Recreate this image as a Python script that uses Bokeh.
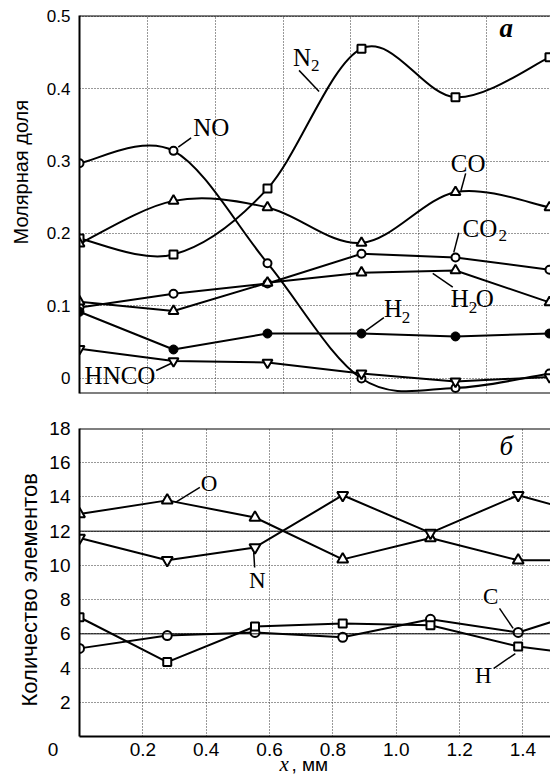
import numpy as np
from bokeh.plotting import figure
from bokeh.layouts import column
from bokeh.models import FixedTicker, Span, Range1d, Title
from bokeh.core.properties import value
from bokeh.embed import file_html
from bokeh.resources import INLINE

# ---------------- panel а : molar fractions ----------------
x_a = [0.0, 0.277, 0.554, 0.831, 1.108, 1.385]
no_a = [0.297, 0.314, 0.159, 0.000, -0.013, 0.007]
n2_a = [0.193, 0.171, 0.262, 0.455, 0.388, 0.443]
co_a = [0.186, 0.245, 0.236, 0.187, 0.257, 0.236]
co2_a = [0.098, 0.117, 0.131, 0.172, 0.167, 0.150]
h2o_a = [0.106, 0.093, 0.132, 0.146, 0.149, 0.105]
h2_a = [0.092, 0.040, 0.062, 0.062, 0.058, 0.062]
hnco_a = [0.041, 0.024, 0.022, 0.007, -0.004, 0.002]
y_ticks_a = [0, 0.1, 0.2, 0.3, 0.4, 0.5]
y_tick_labels_a = ["0", "0.1", "0.2", "0.3", "0.4", "0.5"]
x_ticks_a = [0.2, 0.4, 0.6, 0.8, 1.0, 1.2]

# ---------------- panel б : element counts ----------------
x_b = [0.0, 0.277, 0.554, 0.831, 1.108, 1.385, 1.662]
o_b = [13.0, 13.8, 12.8, 10.35, 11.6, 10.3, 10.3]
n_b = [11.6, 10.3, 11.05, 14.1, 11.9, 14.1, 12.7]
c_b = [5.15, 5.9, 6.08, 5.8, 6.85, 6.08, 7.7]
h_b = [6.97, 4.35, 6.43, 6.6, 6.5, 5.26, 4.6]
ref_levels_b = [6, 12]
y_ticks_b = [2, 4, 6, 8, 10, 12, 14, 16, 18]
x_ticks_b = [0, 0.2, 0.4, 0.6, 0.8, 1.0, 1.2, 1.4]
x_tick_labels_b = ["0", "0.2", "0.4", "0.6", "0.8", "1.0", "1.2", "1.4"]

SANS = "Liberation Sans"
SERIF = "Liberation Serif"
GRID = "#333333"
W = 550


def smooth(p, xs, ys):
    """Catmull-Rom curve through the data points, drawn with Bokeh bezier glyphs."""
    xs = np.asarray(xs, float)
    ys = np.asarray(ys, float)
    n = len(xs)
    xp = np.concatenate([[xs[0]], xs, [xs[-1]]])
    yp = np.concatenate([[ys[0]], ys, [ys[-1]]])
    cx0 = xp[1:n] + (xp[2:n + 1] - xp[0:n - 1]) / 6
    cy0 = yp[1:n] + (yp[2:n + 1] - yp[0:n - 1]) / 6
    cx1 = xp[2:n + 1] - (xp[3:n + 2] - xp[1:n]) / 6
    cy1 = yp[2:n + 1] - (yp[3:n + 2] - yp[1:n]) / 6
    p.bezier(x0=xs[:-1], y0=ys[:-1], x1=xs[1:], y1=ys[1:],
             cx0=cx0, cy0=cy0, cx1=cx1, cy1=cy1,
             line_color="black", line_width=2)


def style_common(p, tick_size):
    p.outline_line_color = None
    p.background_fill_color = "white"
    p.border_fill_color = "white"
    for ax in (p.xaxis, p.yaxis):
        ax.axis_line_width = 2
        ax.axis_line_color = "black"
        ax.major_tick_in = 0
        ax.major_tick_out = 0
        ax.minor_tick_in = 0
        ax.minor_tick_out = 0
        ax.major_label_text_font = SANS
        ax.major_label_text_font_size = tick_size
        ax.major_label_text_color = "black"
    for g in (p.xgrid, p.ygrid):
        g.grid_line_color = GRID
        g.grid_line_dash = "1 2"
        g.grid_line_width = 1


def texts(p, xs, ys, labels, size):
    p.text(x=xs, y=ys, text=labels, text_font=value(SERIF),
           text_font_size=value(size), text_align="left",
           text_baseline="middle", text_color="black")


# ================= top panel =================
ya0, ya1 = -0.0207, 0.5007
p1 = figure(width=W, height=410, output_backend="svg", toolbar_location=None,
            x_range=Range1d(0, 1.388), y_range=Range1d(ya0, ya1),
            min_border_left=78, min_border_right=0, min_border_top=15,
            min_border_bottom=17)
style_common(p1, "17px")
p1.xaxis.visible = False
p1.xgrid.ticker = FixedTicker(ticks=x_ticks_a)
p1.yaxis.ticker = FixedTicker(ticks=y_ticks_a)
p1.yaxis.major_label_overrides = {t: l for t, l in zip(y_ticks_a, y_tick_labels_a)}
p1.yaxis.major_label_standoff = 9
p1.add_layout(Span(location=ya1, dimension="width", line_color="black", line_width=2))
p1.add_layout(Span(location=ya0, dimension="width", line_color="black", line_width=2))
p1.add_layout(Title(text="Молярная доля", align="left", offset=149,
                    vertical_align="top", standoff=19, text_font=SANS,
                    text_font_size="20px", text_font_style="normal",
                    text_color="black"), "left")

smooth(p1, x_a, no_a)
smooth(p1, x_a, n2_a)
smooth(p1, x_a, co_a)
for ys in (co2_a, h2o_a, h2_a, hnco_a):
    p1.line(x_a, ys, line_color="black", line_width=2)

mk = dict(line_color="black", line_width=2, fill_color="white")
p1.scatter(x_a, no_a, marker="circle", size=8, **mk)
p1.scatter(x_a, co2_a, marker="circle", size=8, **mk)
p1.scatter(x_a, n2_a, marker="square", size=8, **mk)
p1.scatter(x_a, co_a, marker="triangle", size=10, **mk)
p1.scatter(x_a, h2o_a, marker="triangle", size=10, **mk)
p1.scatter(x_a, hnco_a, marker="inverted_triangle", size=10, **mk)
p1.scatter(x_a, h2_a, marker="circle", size=9, line_color="black", line_width=1,
           fill_color="black")

# leader lines
p1.segment(x0=[0.291, 0.647, 1.138, 1.118, 1.041, 0.844, 0.226],
           y0=[0.319, 0.425, 0.283, 0.201, 0.145, 0.066, 0.011],
           x1=[0.329, 0.706, 1.124, 1.103, 1.100, 0.897, 0.271],
           y1=[0.332, 0.396, 0.259, 0.174, 0.126, 0.084, 0.021],
           line_color="black", line_width=1.5)
texts(p1, [0.335, 0.629, 1.094, 1.129, 1.094, 1.168, 0.897, 0.015],
      [0.346, 0.443, 0.297, 0.207, 0.110, 0.110, 0.097, 0.004],
      ["NO", "N", "CO", "CO", "H", "O", "H", "HNCO"], "25px")
texts(p1, [0.682, 1.235, 1.147, 0.950], [0.432, 0.197, 0.098, 0.084],
      ["2", "2", "2", "2"], "17px")
p1.text(x=[1.238], y=[0.483], text=["а"], text_font=value(SERIF),
        text_font_size=value("27px"), text_font_style="bold italic",
        text_align="left", text_baseline="middle")

# ================= bottom panel =================
p2 = figure(width=W, height=364, output_backend="svg", toolbar_location=None,
            x_range=Range1d(0, 1.487), y_range=Range1d(0, 18),
            min_border_left=69, min_border_right=0, min_border_top=18,
            min_border_bottom=38)
style_common(p2, "19px")
p2.xaxis.ticker = FixedTicker(ticks=x_ticks_b)
ovx = {t: l for t, l in zip(x_ticks_b, x_tick_labels_b)}
ovx[x_ticks_b[0]] = x_tick_labels_b[0] + "\u00a0" * 10
p2.xaxis.major_label_overrides = ovx
p2.xaxis.major_label_standoff = 2
p2.yaxis.ticker = FixedTicker(ticks=y_ticks_b)
p2.yaxis.major_label_standoff = 9
p2.add_layout(Span(location=18, dimension="width", line_color="black", line_width=2))
for lv in ref_levels_b:
    p2.add_layout(Span(location=lv, dimension="width", line_color="black", line_width=1))
p2.add_layout(Title(text="Количество элементов", align="left", offset=30,
                    vertical_align="top", standoff=6, text_font=SANS,
                    text_font_size="22px", text_font_style="normal",
                    text_color="black"), "left")
# x-axis title: italic serif "x" followed by ", мм"
p2.add_layout(Title(text="x", align="left", offset=200, vertical_align="middle",
                    standoff=-24, text_font=SERIF, text_font_size="21px",
                    text_font_style="italic", text_color="black"), "below")
p2.add_layout(Title(text=", мм", align="left", offset=212, vertical_align="top",
                    standoff=-22, text_font=SANS, text_font_size="19px",
                    text_font_style="normal", text_color="black"), "below")

for ys in (o_b, n_b, c_b, h_b):
    p2.line(x_b, ys, line_color="black", line_width=2)
p2.scatter(x_b, o_b, marker="triangle", size=11, **mk)
p2.scatter(x_b, n_b, marker="inverted_triangle", size=11, **mk)
p2.scatter(x_b, c_b, marker="circle", size=9, **mk)
p2.scatter(x_b, h_b, marker="square", size=8, **mk)

p2.segment(x0=[0.303, 0.550, 1.326, 1.308], y0=[13.68, 10.76, 7.49, 3.98],
           x1=[0.380, 0.553, 1.369, 1.376], y1=[14.56, 9.88, 6.32, 4.85],
           line_color="black", line_width=1.5)
texts(p2, [0.383, 0.535, 1.274, 1.249], [14.8, 9.12, 8.19, 3.57],
      ["O", "N", "C", "H"], "23px")
p2.text(x=[1.326], y=[17.0], text=["б"], text_font=value(SERIF),
        text_font_size=value("27px"), text_font_style="italic",
        text_align="left", text_baseline="middle")

layout = column(p1, p2)
open("out.html", "w").write(file_html(layout, INLINE))
